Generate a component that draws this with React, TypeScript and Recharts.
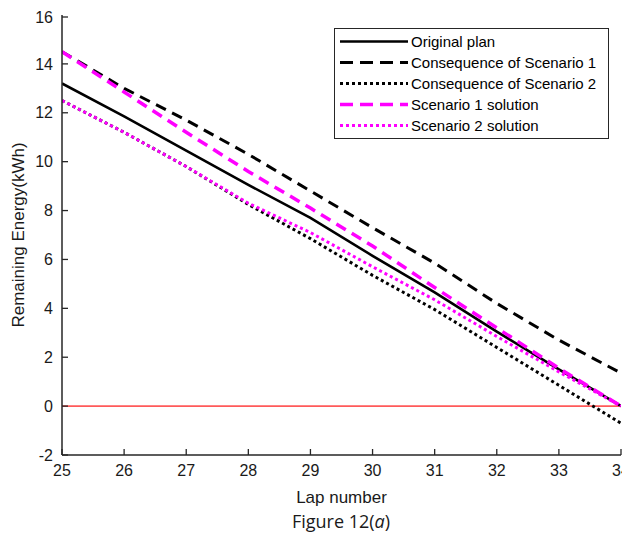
import React from 'react';
import { LineChart, Line, XAxis, YAxis, ReferenceLine, Legend } from 'recharts';

const laps = [25, 26, 27, 28, 29, 30, 31, 32, 33, 34];
const originalPlan = [13.2, 11.85, 10.45, 9.05, 7.7, 6.15, 4.65, 3.05, 1.5, 0];
const consequence1 = [14.5, 13.0, 11.7, 10.3, 8.8, 7.3, 5.85, 4.2, 2.7, 1.35];
const consequence2 = [12.5, 11.2, 9.8, 8.25, 6.85, 5.35, 3.95, 2.4, 0.85, -0.7];
const scenario1Solution = [14.5, 12.85, 11.2, 9.6, 8.1, 6.55, 4.85, 3.2, 1.55, 0];
const scenario2Solution = [12.5, 11.2, 9.8, 8.3, 7.1, 5.7, 4.35, 2.85, 1.4, 0];

const xTicks = [25, 26, 27, 28, 29, 30, 31, 32, 33, 34];
const yTicks = [-2, 0, 2, 4, 6, 8, 10, 12, 14, 16];

const seriesNames = [
  'Original plan',
  'Consequence of Scenario 1',
  'Consequence of Scenario 2',
  'Scenario 1 solution',
  'Scenario 2 solution',
];

const data = laps.map((lap, i) => ({
  lap,
  s0: originalPlan[i],
  s1: consequence1[i],
  s2: consequence2[i],
  s3: scenario1Solution[i],
  s4: scenario2Solution[i],
}));

const AXIS = '#262626';
const MAG = '#ff00ff';
const FONT = '"Liberation Sans", Arial, sans-serif';

const styles = [
  { key: 's0', color: '#000000', width: 2.6, dash: undefined as string | undefined },
  { key: 's1', color: '#000000', width: 3, dash: '11 7' },
  { key: 's2', color: '#000000', width: 3, dash: '3 3' },
  { key: 's3', color: MAG, width: 3.5, dash: '11 7' },
  { key: 's4', color: MAG, width: 3, dash: '3 3' },
];

const X_MARGIN = 10;
const Y_MARGIN = 9;
const TICK_LEN = 6;

const BottomTick = (props: any) => {
  const { x, y, payload } = props;
  const axisY = y - X_MARGIN;
  return (
    <g>
      <line x1={x} x2={x} y1={axisY} y2={axisY - TICK_LEN} stroke={AXIS} strokeWidth={1.3} />
      <text x={x} y={y} dy="0.71em" textAnchor="middle" fontSize={16} fontFamily={FONT} fill="#1a1a1a">
        {payload.value}
      </text>
    </g>
  );
};

const TopTick = (props: any) => {
  const { x, y } = props;
  return <line x1={x} x2={x} y1={y} y2={y + TICK_LEN} stroke={AXIS} strokeWidth={1.3} />;
};

const LeftTick = (props: any) => {
  const { x, y, payload } = props;
  const axisX = x + Y_MARGIN;
  return (
    <g>
      <line x1={axisX} x2={axisX + TICK_LEN} y1={y} y2={y} stroke={AXIS} strokeWidth={1.3} />
      <text x={x} y={y} dy="0.355em" textAnchor="end" fontSize={16} fontFamily={FONT} fill="#1a1a1a">
        {payload.value}
      </text>
    </g>
  );
};

const RightTick = (props: any) => {
  const { x, y } = props;
  return <line x1={x} x2={x - TICK_LEN} y1={y} y2={y} stroke={AXIS} strokeWidth={1.3} />;
};

const YLabel = (props: any) => {
  const vb = props.viewBox || {};
  const cx = (vb.x || 0) + 10;
  const cy = (vb.y || 0) + (vb.height || 0) / 2;
  return (
    <text
      x={cx}
      y={cy}
      transform={`rotate(-90 ${cx} ${cy})`}
      textAnchor="middle"
      dominantBaseline="central"
      fontSize={17}
      fontFamily={FONT}
      fill="#1a1a1a"
    >
      Remaining Energy(kWh)
    </text>
  );
};

const XLabel = (props: any) => {
  const vb = props.viewBox || {};
  const cx = (vb.x || 0) + (vb.width || 0) / 2;
  const by = (vb.y || 0) + 48;
  return (
    <text x={cx} y={by} textAnchor="middle" fontSize={17} fontFamily={FONT} fill="#1a1a1a">
      Lap number
    </text>
  );
};

const renderLegend = () => (
  <div
    style={{
      border: `1px solid ${AXIS}`,
      background: '#ffffff',
      width: 275,
      paddingTop: 2,
      paddingBottom: 2,
      boxSizing: 'border-box',
      fontFamily: FONT,
      fontSize: 15,
      color: '#000',
    }}
  >
    {seriesNames.map((name, i) => (
      <div key={name} style={{ display: 'flex', alignItems: 'center', height: 21, whiteSpace: 'nowrap' }}>
        <svg width={68} height={21} style={{ marginLeft: 5, marginRight: 3, flex: 'none' }}>
          <line
            x1={0}
            x2={68}
            y1={10.5}
            y2={10.5}
            stroke={styles[i].color}
            strokeWidth={styles[i].width}
            strokeDasharray={styles[i].dash === '11 7' ? '13 7' : styles[i].dash}
          />
        </svg>
        <span>{name}</span>
      </div>
    ))}
  </div>
);

export default function App() {
  return (
    <div style={{ position: 'relative', width: 622, height: 530 }}>
      <LineChart width={622} height={530} data={data} margin={{ top: 7, right: 9, left: 0, bottom: 33 }}>
        <XAxis
          dataKey="lap"
          type="number"
          domain={[25, 34]}
          ticks={xTicks}
          allowDataOverflow
          height={50}
          tickSize={0}
          tickMargin={X_MARGIN}
          tickLine={false}
          tick={<BottomTick />}
          axisLine={{ stroke: AXIS, strokeWidth: 1.5 }}
          label={<XLabel />}
        />
        <XAxis
          xAxisId="top"
          dataKey="lap"
          orientation="top"
          type="number"
          domain={[25, 34]}
          ticks={xTicks}
          allowDataOverflow
          height={0}
          tickSize={0}
          tickMargin={0}
          tickLine={false}
          tick={<TopTick />}
          axisLine={{ stroke: AXIS, strokeWidth: 1.5 }}
        />
        <YAxis
          type="number"
          domain={[-2, 16]}
          ticks={yTicks}
          allowDataOverflow
          width={54}
          tickSize={0}
          tickMargin={Y_MARGIN}
          tickLine={false}
          tick={<LeftTick />}
          axisLine={{ stroke: AXIS, strokeWidth: 1.5 }}
          label={<YLabel />}
        />
        <YAxis
          yAxisId="right"
          orientation="right"
          type="number"
          domain={[-2, 16]}
          ticks={yTicks}
          allowDataOverflow
          width={0}
          tickSize={0}
          tickMargin={0}
          tickLine={false}
          tick={<RightTick />}
          axisLine={{ stroke: AXIS, strokeWidth: 1.5 }}
        />
        <ReferenceLine y={0} stroke="#ff5a5a" strokeWidth={1.6} />
        {styles.map((s, i) => (
          <Line
            key={s.key}
            type="linear"
            dataKey={s.key}
            name={seriesNames[i]}
            stroke={s.color}
            strokeWidth={s.width}
            strokeDasharray={s.dash}
            dot={false}
            activeDot={false}
            isAnimationActive={false}
          />
        ))}
        <Legend
          layout="vertical"
          align="center"
          verticalAlign="middle"
          content={renderLegend}
          wrapperStyle={{ position: 'absolute', top: 20, left: 326, width: 275 }}
        />
      </LineChart>
      <div
        style={{
          position: 'absolute',
          left: 233,
          top: 503,
          width: 200,
          textAlign: 'center',
          fontFamily: '"Open Sans", "Noto Sans", sans-serif',
          fontSize: 18,
          lineHeight: '20px',
          color: '#1a1a1a',
        }}
      >
        Figure 12(<span style={{ fontStyle: 'italic' }}>a</span>)
      </div>
    </div>
  );
}
